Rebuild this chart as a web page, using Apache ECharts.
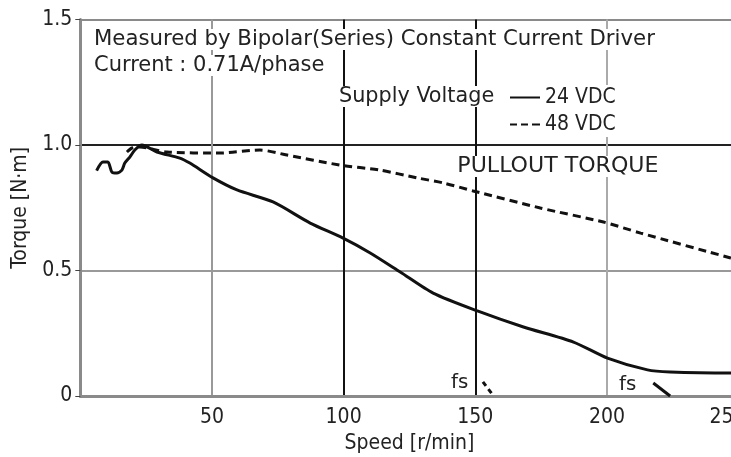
<!DOCTYPE html>
<html>
<head>
<meta charset="utf-8">
<script src="https://cdn.jsdelivr.net/npm/echarts@6/dist/echarts.min.js"></script>
<style>
html,body{margin:0;padding:0;background:#fff;}
#c{width:731px;height:457px;}
</style>
</head>
<body>
<div id="c"></div>
<script>
// ---- data ----
var xTicks = [0, 50, 100, 150, 200, 250];
var yTicks = [0, 0.5, 1.0, 1.5];

var speed24  = [6.2, 8.6, 10.5, 12.0, 13.9, 15.8, 16.9, 18.8, 20.7, 23.4, 29.1, 37.8, 41.6, 50.4, 59.5, 73.2, 87.3, 99.8, 110.1, 121.5, 134.0, 150.8, 168.3, 187.3, 200.2, 215.4, 224.0, 247.0, 250];
var torque24 = [0.898, 0.932, 0.932, 0.892, 0.888, 0.900, 0.928, 0.952, 0.980, 1.000, 0.972, 0.948, 0.928, 0.869, 0.821, 0.773, 0.689, 0.629, 0.570, 0.494, 0.410, 0.339, 0.275, 0.215, 0.151, 0.104, 0.096, 0.092, 0.092];

var speed48  = [17.7, 19.6, 22.6, 32.9, 53.0, 68.2, 78.5, 98.6, 113.8, 127.9, 137.8, 149.2, 174.7, 198.7, 212.8, 247.0, 250];
var torque48 = [0.972, 0.988, 0.992, 0.972, 0.968, 0.980, 0.960, 0.920, 0.900, 0.869, 0.849, 0.817, 0.749, 0.693, 0.649, 0.550, 0.541];

var fsSpeed48  = [152.9, 156.7];
var fsTorque48 = [0.056, 0.004];
var fsSpeed24  = [217.6, 224.0];
var fsTorque24 = [0.052, 0.0];

function pairs(xs, ys){ return xs.map(function(x,i){ return [x, ys[i]]; }); }

var FONT = '"DejaVu Sans Condensed", "Liberation Sans", sans-serif';
var chart = echarts.init(document.getElementById('c'));

function note(text, x, y, size, sx, pad){
  return { type: 'text', x: x, y: y, scaleX: sx, scaleY: 1, z: 10,
    style: { text: text, font: size + 'px ' + FONT, fill: '#222', backgroundColor: '#fff',
             textVerticalAlign: 'top', verticalAlign: 'top', align: 'left', padding: pad || [0,0,0,0] } };
}

var option = {
  backgroundColor: '#fff',
  animation: false,
  grid: { left: 80.3, right: -7.6, top: 19.5, bottom: 61, containLabel: false, outerBoundsMode: 'none' },
  xAxis: {
    type: 'value', min: 0, max: 250, interval: 50,
    name: 'Speed [r/min]', nameLocation: 'middle', nameGap: 36,
    nameTextStyle: { fontFamily: FONT, fontSize: 21, color: '#222' },
    axisLine: { show: true, lineStyle: { color: '#8a8a8a', width: 3 } },
    axisTick: { show: false },
    axisLabel: { fontFamily: FONT, fontSize: 21, color: '#222', margin: 11, hideOverlap: false,
      showMinLabel: false, showMaxLabel: true,
      rich: { last: { fontFamily: FONT, fontSize: 21, color: '#222', padding: [0, 22, 0, 0] } },
      formatter: function(v){ return v === 0 ? '' : (v === 250 ? '{last|250}' : String(v)); } },
    splitLine: { show: true, lineStyle: { color: ['#888', '#999', '#111', '#111', '#aaa', '#888'], width: 2 } }
  },
  yAxis: {
    type: 'value', min: 0, max: 1.5, interval: 0.5,
    name: 'Torque [N\u00b7m]', nameLocation: 'middle', nameGap: 47, nameRotate: 90,
    nameTextStyle: { fontFamily: FONT, fontSize: 21, color: '#222' },
    axisLine: { show: true, lineStyle: { color: '#8a8a8a', width: 3 } },
    axisTick: { show: true, length: 5, lineStyle: { color: '#444', width: 1 } },
    axisLabel: { fontFamily: FONT, fontSize: 21, color: '#222', margin: 8,
      formatter: function(v){ return v === 0 ? '0' : v.toFixed(1); } },
    splitLine: { show: true, lineStyle: { color: ['#888', '#999', '#222', '#8a8a8a'], width: 2 } }
  },
  legend: {
    orient: 'vertical', left: 508, top: 85, itemGap: 6,
    itemWidth: 30, itemHeight: 14,
    backgroundColor: '#fff', padding: [2, 4, 2, 2],
    textStyle: { fontFamily: FONT, fontSize: 21, color: '#222' },
    data: [
      { name: '24 VDC', icon: 'path://M0,6 L30,6 L30,8 L0,8 Z' },
      { name: '48 VDC', icon: 'path://M0,6 L7,6 L7,8 L0,8 Z M11,6 L18,6 L18,8 L11,8 Z M22,6 L30,6 L30,8 L22,8 Z' }
    ]
  },
  graphic: [
    note('Measured by Bipolar(Series) Constant Current Driver', 94, 29, 21, 1.125),
    note('Current : 0.71A/phase', 94, 55, 21, 1.11),
    note('Supply Voltage', 339, 86, 21, 1.10, [0, 6, 0, 0]),
    note('PULLOUT TORQUE', 455, 156, 21, 1.17, [0, 2, 0, 2]),
    note('fs', 451, 373, 20, 1.1),
    note('fs', 619, 375, 20, 1.1)
  ],
  series: [
    { name: '24 VDC', type: 'line', data: pairs(speed24, torque24), smooth: 0.25,
      showSymbol: false, symbol: 'none',
      lineStyle: { color: '#111', width: 3 }, itemStyle: { color: '#111' } },
    { name: '48 VDC', type: 'line', data: pairs(speed48, torque48), smooth: 0.25,
      showSymbol: false, symbol: 'none',
      lineStyle: { color: '#111', width: 3, type: [8, 5] }, itemStyle: { color: '#111' } },
    { name: 'fs48', type: 'line', data: pairs(fsSpeed48, fsTorque48),
      showSymbol: false, symbol: 'none',
      lineStyle: { color: '#111', width: 3, type: [5, 4] } },
    { name: 'fs24', type: 'line', data: pairs(fsSpeed24, fsTorque24),
      showSymbol: false, symbol: 'none',
      lineStyle: { color: '#111', width: 3 } }
  ]
};
chart.setOption(option);
</script>
</body>
</html>
